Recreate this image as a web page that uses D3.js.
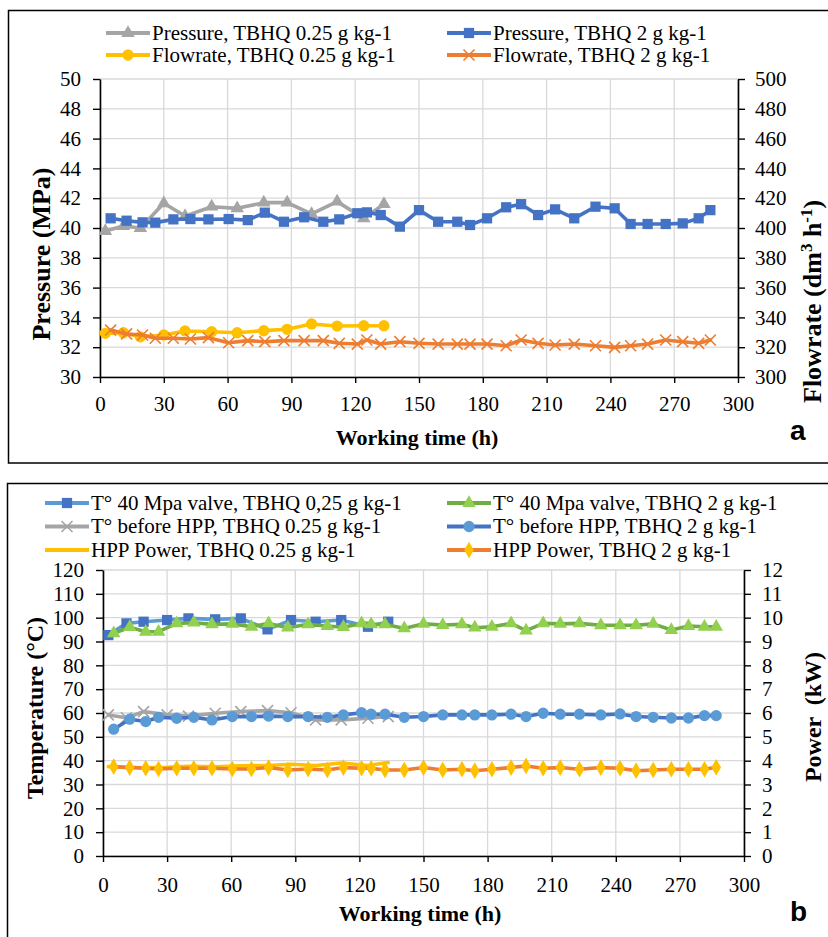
<!DOCTYPE html>
<html><head><meta charset="utf-8">
<script src="https://cdn.jsdelivr.net/npm/d3@7"></script>
<style>
body{margin:0;background:#fff}
svg{display:block}
text{font-family:"Liberation Serif","Times New Roman",serif;fill:#000}
text.tag{font-family:"Liberation Sans",Arial,sans-serif}
</style>
</head><body>
<svg id="c" width="828" height="937"></svg>
<script>
// ---------- DATA ----------
const timesLow = [2.5, 11, 19, 30, 40, 52.5, 64.5, 77, 88, 99.5, 111.5, 124, 133.5];
const timesHigh = [5, 12.5, 20, 26, 34.5, 42.5, 51, 60.5, 69.5, 77.5, 86.5, 96, 105, 112.5, 121, 125.5, 132, 141,
  150, 159, 168, 174, 182, 191, 198, 206, 214, 223, 233, 242, 249.5, 257.5, 266, 274, 281.5, 287];

// (a) Pressure (MPa) and flowrate (dm3 h-1)
const pressureLow = [39.8, 40.13, 40.0, 41.66, 40.8, 41.43, 41.32, 41.7, 41.7, 40.94, 41.77, 40.65, 41.6];
const pressureHigh = [40.65, 40.49, 40.38, 40.36, 40.58, 40.6, 40.58, 40.6, 40.53, 41.03, 40.42, 40.72, 40.42, 40.58, 40.99, 41.05, 40.87, 40.09,
  41.2, 40.42, 40.42, 40.2, 40.65, 41.39, 41.6, 40.87, 41.25, 40.65, 41.43, 41.32, 40.27, 40.27, 40.27, 40.31, 40.65, 41.2];
const flowLow = [329.3, 329.7, 327.0, 328.2, 330.9, 330.4, 329.7, 331.1, 332.0, 335.6, 334.2, 334.4, 334.4];
const flowHigh = [331.5, 328.9, 328.2, 326.0, 326.0, 325.5, 326.4, 323.0, 324.4, 323.7, 324.4, 324.4, 324.4, 322.6, 322.1, 324.8, 322.1, 323.7,
  322.6, 322.1, 322.1, 322.1, 322.1, 321.0, 324.8, 322.6, 321.5, 322.1, 321.0, 319.9, 321.0, 322.1, 324.8, 323.7, 322.6, 324.8];

// (b) Temperatures (°C) and power (kW)
const tValveLow = [92.7, 97.6, 98.3, 99.0, 99.7, 99.3, 99.7, 95.1, 99.0, 98.3, 99.0, 96.2, 98.3];
const tValveHigh = [93.4, 96.0, 94.1, 94.1, 97.6, 97.9, 97.2, 97.4, 96.2, 97.6, 95.8, 97.2, 96.5, 96.0, 97.6, 97.2, 97.2, 95.5,
  97.4, 96.9, 97.2, 95.8, 96.2, 97.6, 94.6, 97.6, 97.4, 97.6, 96.8, 96.8, 96.8, 97.4, 94.8, 96.5, 96.2, 96.2];
const tBeforeLow = [59.2, 58.0, 60.6, 59.2, 58.7, 59.9, 60.6, 61.0, 60.1, 57.1, 57.1, 57.8, 58.5];
const tBeforeHigh = [53.2, 57.4, 56.4, 58.2, 57.8, 58.2, 57.1, 58.5, 58.5, 58.7, 58.5, 58.5, 58.2, 59.2, 60.1, 59.5, 59.5, 58.2,
  58.5, 59.2, 59.2, 59.2, 59.2, 59.5, 58.5, 59.9, 59.5, 59.5, 59.2, 59.6, 58.5, 58.2, 57.9, 57.9, 58.9, 58.9];
const powerLow = [3.75, 3.72, 3.70, 3.72, 3.76, 3.74, 3.78, 3.80, 3.85, 3.80, 3.90, 3.80, 3.92];
const powerHigh = [3.75, 3.71, 3.68, 3.65, 3.68, 3.68, 3.68, 3.65, 3.65, 3.71, 3.61, 3.65, 3.61, 3.71, 3.68, 3.68, 3.61, 3.61,
  3.71, 3.61, 3.64, 3.58, 3.64, 3.71, 3.78, 3.68, 3.71, 3.64, 3.71, 3.68, 3.58, 3.61, 3.64, 3.64, 3.64, 3.72];

const xTicks = d3.range(0, 301, 30);
const pressureTicks = d3.range(30, 51, 2);
const flowTicks = d3.range(300, 501, 20);
const tempTicks = d3.range(0, 121, 10);
const powerTicks = d3.range(0, 13, 1);

// ---------- DRAW ----------
const svg = d3.select("#c");
const SERIF = '"Liberation Serif","Times New Roman",serif';

// frames
svg.append("rect").attr("x", 8.5).attr("y", 10.5).attr("width", 830).attr("height", 452.5)
  .attr("fill", "none").attr("stroke", "#000").attr("stroke-width", 1.5);
svg.append("rect").attr("x", 7.5).attr("y", 483.5).attr("width", 830).attr("height", 500)
  .attr("fill", "none").attr("stroke", "#000").attr("stroke-width", 1.5);

function markerPath(type) {
  if (type === "x") { const s = 5.5; return `M${-s},${-s}L${s},${s}M${-s},${s}L${s},${-s}`; }
  const sym = {square: d3.symbolSquare, triangle: d3.symbolTriangle, circle: d3.symbolCircle, diamond: d3.symbolDiamond}[type];
  const size = {square: 105, triangle: 80, circle: 100, diamond: 80}[type];
  return d3.symbol(sym, size)();
}
function drawMarker(g, type, fill, x, y) {
  const p = g.append("path").attr("d", markerPath(type)).attr("transform", `translate(${x},${y})`);
  if (type === "x") p.attr("fill", "none").attr("stroke", fill).attr("stroke-width", 1.6);
  else p.attr("fill", fill).attr("stroke", "none");
}

function panel(cfg) {
  const g = svg.append("g");
  const x = d3.scaleLinear([0, 300], [cfg.x0, cfg.x1]);
  const yL = d3.scaleLinear(cfg.leftDomain, [cfg.y1, cfg.y0]);
  const yR = d3.scaleLinear(cfg.rightDomain, [cfg.y1, cfg.y0]);
  // grid
  g.append("g").selectAll("line").data(cfg.leftTicks).join("line")
    .attr("x1", cfg.x0).attr("x2", cfg.x1).attr("y1", d => yL(d)).attr("y2", d => yL(d))
    .attr("stroke", "#d9d9d9").attr("stroke-width", 1.3);
  g.append("g").selectAll("line").data(xTicks).join("line")
    .attr("y1", cfg.y0).attr("y2", cfg.y1).attr("x1", d => x(d)).attr("x2", d => x(d))
    .attr("stroke", "#d9d9d9").attr("stroke-width", 1.3);
  // axes
  const styleAxis = a => {
    a.selectAll("path.domain").attr("stroke", "#000").attr("stroke-width", 1.6);
    a.selectAll(".tick line").attr("stroke", "#000").attr("stroke-width", 1.4);
    a.selectAll("text").attr("font-family", SERIF).attr("font-size", 21).attr("fill", "#000");
  };
  g.append("g").attr("transform", `translate(${cfg.x0},0)`)
    .call(d3.axisLeft(yL).tickValues(cfg.leftTicks).tickSize(7).tickSizeOuter(0).tickPadding(12)).call(styleAxis);
  g.append("g").attr("transform", `translate(${cfg.x1},0)`)
    .call(d3.axisRight(yR).tickValues(cfg.rightTicks).tickSize(7).tickSizeOuter(0).tickPadding(cfg.rPad)).call(styleAxis);
  g.append("g").attr("transform", `translate(0,${cfg.y1})`)
    .call(d3.axisBottom(x).tickValues(xTicks).tickSize(6).tickSizeOuter(0).tickPadding(cfg.bPad)).call(styleAxis);
  g.selectAll(".domain").attr("fill", "none");

  // series
  cfg.series.forEach(s => {
    const y = s.axis === "L" ? yL : yR;
    const pts = s.t.map((t, i) => [x(t), y(s.v[i])]);
    g.append("path").attr("d", d3.line()(pts)).attr("fill", "none").attr("stroke", s.line)
      .attr("stroke-width", 3.6).attr("stroke-linejoin", "round").attr("stroke-linecap", "round");
    if (s.marker) pts.forEach(p => drawMarker(g, s.marker, s.mfill, p[0], p[1]));
  });

  // legend
  cfg.series.forEach((s, i) => {
    const col = i % 2, row = Math.floor(i / 2);
    const lx0 = cfg.legCols[col], lx1 = lx0 + 44, ly = cfg.legY0 + row * cfg.legDy;
    g.append("line").attr("x1", lx0).attr("x2", lx1).attr("y1", ly).attr("y2", ly)
      .attr("stroke", s.line).attr("stroke-width", 4);
    if (s.marker) drawMarker(g, s.marker, s.mfill, (lx0 + lx1) / 2, ly);
    g.append("text").attr("x", lx1 + 2).attr("y", ly).attr("dy", "0.33em")
      .attr("font-size", 21).text(s.name);
  });

  // titles
  g.append("text").attr("x", cfg.xTitleX).attr("y", cfg.xTitleY).attr("text-anchor", "middle")
    .attr("font-size", 22).attr("font-weight", "bold").text("Working time (h)");
  g.append("text").attr("transform", `translate(${cfg.lTitle[0]},${cfg.lTitle[1]}) rotate(-90)`)
    .attr("text-anchor", cfg.lAnchor).attr("font-size", cfg.lSize).attr("font-weight", "bold")
    .attr("xml:space", "preserve").style("white-space", "pre").html(cfg.leftTitle);
  g.append("text").attr("transform", `translate(${cfg.rTitle[0]},${cfg.rTitle[1]}) rotate(-90)`)
    .attr("text-anchor", cfg.rAnchor).attr("font-size", cfg.rSize).attr("font-weight", "bold")
    .attr("xml:space", "preserve").style("white-space", "pre").html(cfg.rightTitle);
  g.append("text").attr("class", "tag").attr("x", cfg.tag[0]).attr("y", cfg.tag[1])
    .attr("font-size", 28).attr("font-weight", "bold").text(cfg.tagText);
}

panel({
  x0: 100, x1: 738, y0: 79, y1: 377,
  leftDomain: [30, 50], rightDomain: [300, 500],
  leftTicks: pressureTicks, rightTicks: flowTicks, rPad: 10, bPad: 13,
  series: [
    {name: "Pressure, TBHQ 0.25 g kg-1", t: timesLow, v: pressureLow, axis: "L", line: "#a5a5a5", marker: "triangle", mfill: "#a5a5a5"},
    {name: "Pressure, TBHQ 2 g kg-1", t: timesHigh, v: pressureHigh, axis: "L", line: "#4472c4", marker: "square", mfill: "#4472c4"},
    {name: "Flowrate, TBHQ 0.25 g kg-1", t: timesLow, v: flowLow, axis: "R", line: "#ffc000", marker: "circle", mfill: "#ffc000"},
    {name: "Flowrate, TBHQ 2 g kg-1", t: timesHigh, v: flowHigh, axis: "R", line: "#ed7d31", marker: "x", mfill: "#ed7d31"}
  ],
  legCols: [106, 447], legY0: 33, legDy: 22,
  xTitleX: 417, xTitleY: 445,
  leftTitle: "Pressure (MPa)", lTitle: [50, 254], lAnchor: "middle", lSize: 26,
  rightTitle: 'Flowrate (dm<tspan dy="-9" font-size="17">3</tspan><tspan dy="9"> h</tspan><tspan dy="-9" font-size="17">-1</tspan><tspan dy="9">)</tspan>',
  rTitle: [821, 403], rAnchor: "start", rSize: 26,
  tag: [790, 440], tagText: "a"
});

panel({
  x0: 103, x1: 744, y0: 570, y1: 856,
  leftDomain: [0, 120], rightDomain: [0, 12],
  leftTicks: tempTicks, rightTicks: powerTicks, rPad: 11, bPad: 15,
  series: [
    {name: "T° 40 Mpa valve, TBHQ 0,25 g kg-1", t: timesLow, v: tValveLow, axis: "L", line: "#5b9bd5", marker: "square", mfill: "#4472c4"},
    {name: "T° 40 Mpa valve, TBHQ 2 g kg-1", t: timesHigh, v: tValveHigh, axis: "L", line: "#70ad47", marker: "triangle", mfill: "#92d050"},
    {name: "T° before HPP, TBHQ 0.25 g kg-1", t: timesLow, v: tBeforeLow, axis: "L", line: "#a5a5a5", marker: "x", mfill: "#a5a5a5"},
    {name: "T° before HPP, TBHQ 2 g kg-1", t: timesHigh, v: tBeforeHigh, axis: "L", line: "#4472c4", marker: "circle", mfill: "#5b9bd5"},
    {name: "HPP Power, TBHQ 0.25 g kg-1", t: timesLow, v: powerLow, axis: "R", line: "#ffc000", marker: null, mfill: null},
    {name: "HPP Power, TBHQ 2 g kg-1", t: timesHigh, v: powerHigh, axis: "R", line: "#ed7d31", marker: "diamond", mfill: "#ffc000"}
  ],
  legCols: [45, 447], legY0: 503, legDy: 23.5,
  xTitleX: 420, xTitleY: 921,
  leftTitle: "Temperature (°C)", lTitle: [43, 708], lAnchor: "middle", lSize: 24,
  rightTitle: "Power  (kW)", rTitle: [821, 717], rAnchor: "middle", rSize: 24,
  tag: [790, 921], tagText: "b"
});
</script>
</body></html>
